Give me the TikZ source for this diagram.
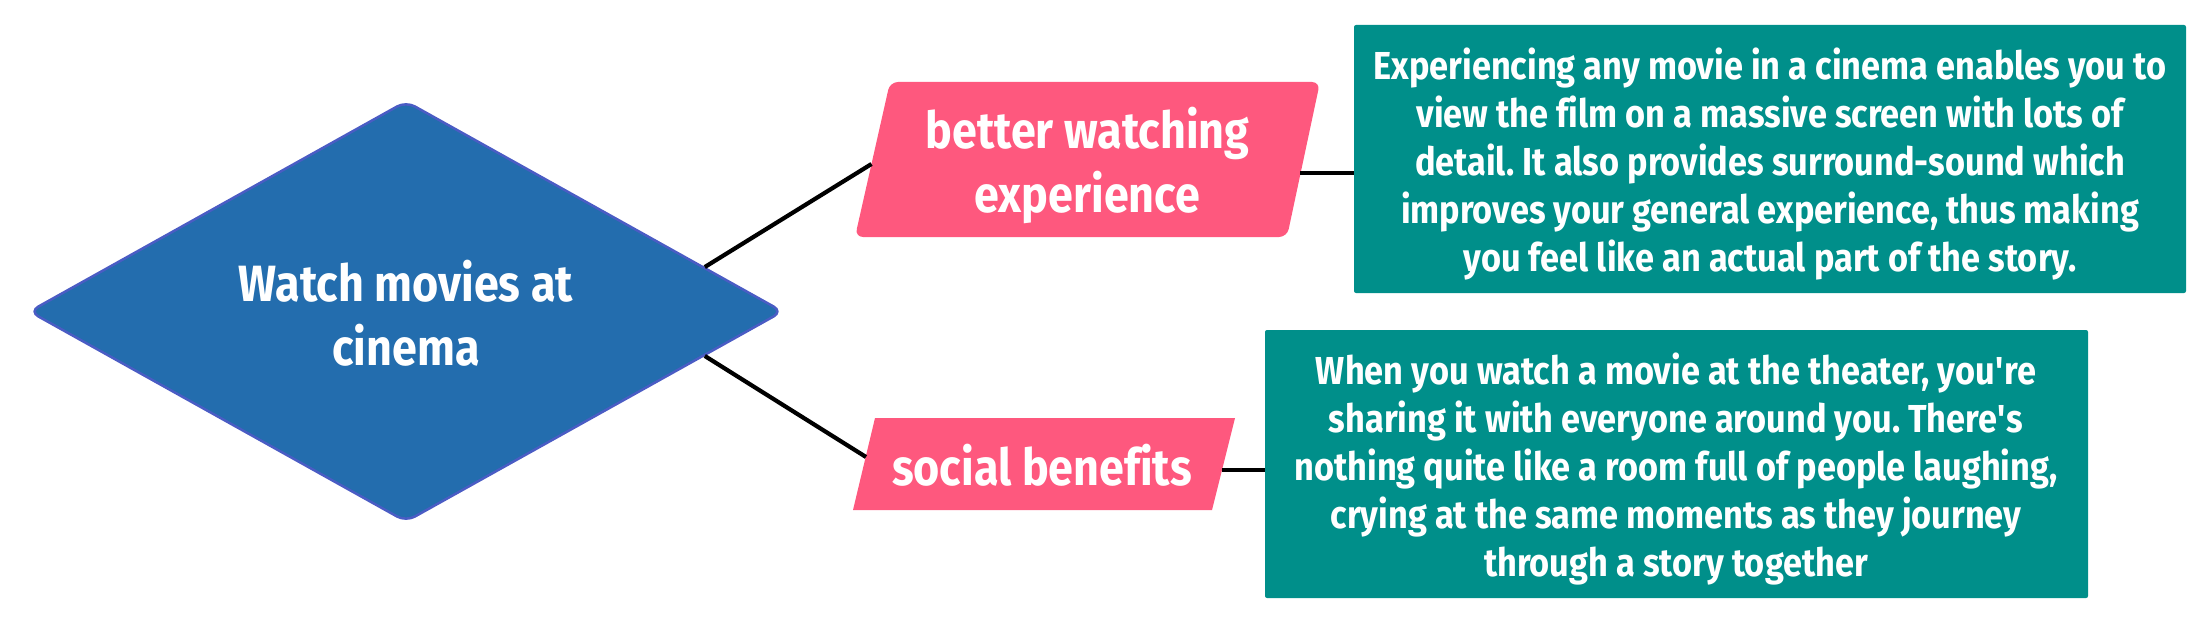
\documentclass[tikz,border=0pt]{standalone}
\usepackage{fontspec}
\setmainfont{Fira Sans}[FakeStretch=0.88, Ligatures=NoCommon]
\usetikzlibrary{shapes.geometric,calc}
\definecolor{dblue}{RGB}{35,109,174}
\definecolor{dedge}{RGB}{74,92,196}
\definecolor{pinkc}{RGB}{254,88,126}
\definecolor{tealc}{RGB}{0,143,138}
\frenchspacing
\begin{document}
\begin{tikzpicture}[x=1pt,y=-1pt,
  dia/.style={diamond, fill=dblue, draw=dedge, line width=2.5pt, rounded corners=10pt,
    minimum width=754pt, minimum height=421pt, inner sep=0pt},
  parafill/.style={fill=pinkc},
  info/.style={rectangle, fill=tealc, rounded corners=2pt, inner sep=0pt},
  bigtxt/.style={text=white, align=center, inner sep=0pt, font=\bfseries\fontsize{51}{64}\selectfont},
  smalltxt/.style={text=white, align=center, inner sep=0pt, font=\bfseries\fontsize{39}{48}\selectfont},
  link/.style={line width=4.2pt, black}]
\useasboundingbox (0,0) rectangle (2210,623);
% shapes
\node[dia] (d) at (406,311.5) {};
\fill[parafill, rounded corners=8pt] (855,237) -- (890,82) -- (1320,82) -- (1287,237) -- cycle;
\fill[parafill] (853,510) -- (875,418) -- (1235,418) -- (1212,510) -- cycle;
\node[info, minimum width=832pt, minimum height=268pt] (t1) at (1770,159) {};
\node[info, minimum width=823pt, minimum height=268pt] (t2) at (1676.5,464) {};
% texts
\node[bigtxt] (dtxt) at (406,313.5) {Watch movies at\\cinema};
\node[bigtxt] (p1) at (1087.5,165) {better watching\\experience};
\node[bigtxt] (p2) at (1042,465) {social benefits};
\node[smalltxt] (t1txt) at (1770,164) {Experiencing any movie in a cinema enables you to\\view the film on a massive screen with lots of\\detail. It also provides surround-sound which\\improves your general experience, thus making\\you feel like an actual part of the story.};
\node[smalltxt] (t2txt) at (1676,469) {When you watch a movie at the theater, you\textquotesingle re\\sharing it with everyone around you. There\textquotesingle s\\nothing quite like a room full of people laughing,\\crying at the same moments as they journey\\through a story together};
% connectors
\coordinate (s1) at ($(d.north)!0.79!(d.east)$);
\coordinate (s2) at ($(d.south)!0.79!(d.east)$);
\coordinate (e1) at (871.5,164);
\coordinate (e2) at (866,457);
\coordinate (k1) at (1300,173);
\coordinate (k2) at (1222,470);
\draw[link] (s1) -- (e1);
\draw[link] (s2) -- (e2);
\draw[link] (k1) -- (k1 -| t1.west);
\draw[link] (k2) -- (k2 -| t2.west);
\end{tikzpicture}
\end{document}
